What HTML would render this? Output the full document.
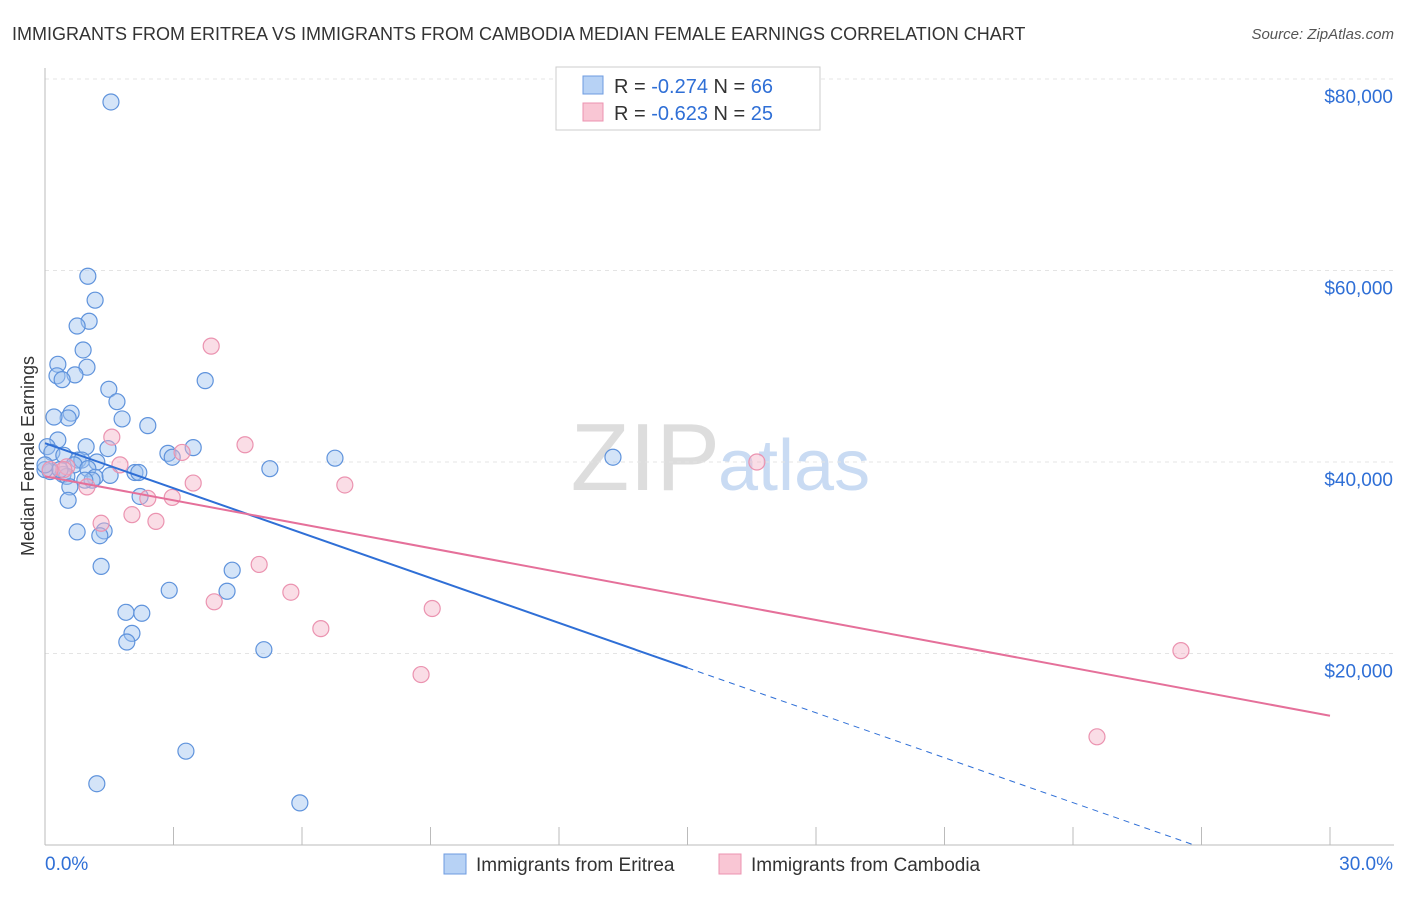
<!DOCTYPE html>
<html><head><meta charset="utf-8"><style>
body{margin:0;background:#fff;font-family:"Liberation Sans",sans-serif}
svg text{font-family:"Liberation Sans",sans-serif}
</style></head><body>
<svg id="c" width="1406" height="892">
<text x="12" y="40" font-size="18" fill="#333">IMMIGRANTS FROM ERITREA VS IMMIGRANTS FROM CAMBODIA MEDIAN FEMALE EARNINGS CORRELATION CHART</text>
<text x="1394" y="39" font-size="15" fill="#555" font-style="italic" text-anchor="end">Source: ZipAtlas.com</text>
<text x="720" y="490" font-size="96" fill="#ddd" text-anchor="end" font-family="Liberation Serif">ZIP</text>
<text x="718" y="490" font-size="72" fill="#c9dbf3">atlas</text>
<text transform="translate(34,456) rotate(-90)" font-size="18" fill="#333" text-anchor="middle">Median Female Earnings</text>
<g id="grid"></g><g id="pts"></g><g id="lines"></g>
<g>
<rect x="556" y="67" width="264" height="63" fill="#fff" stroke="#ccc"/>
<rect x="583" y="76" width="20" height="18" fill="#b7d2f5" stroke="#6d9be0"/>
<rect x="583" y="103" width="20" height="18" fill="#f9c6d4" stroke="#ec93b0"/>
<text x="614" y="93" font-size="20" fill="#333">R = <tspan fill="#2f6fd6">-0.274</tspan>   N = <tspan fill="#2f6fd6">66</tspan></text>
<text x="614" y="120" font-size="20" fill="#333">R = <tspan fill="#2f6fd6">-0.623</tspan>   N = <tspan fill="#2f6fd6">25</tspan></text>
</g>
<g>
<rect x="444" y="854" width="22" height="20" fill="#b7d2f5" stroke="#6d9be0"/>
<text x="476" y="871" font-size="19" fill="#333">Immigrants from Eritrea</text>
<rect x="719" y="854" width="22" height="20" fill="#f9c6d4" stroke="#ec93b0"/>
<text x="751" y="871" font-size="19" fill="#333">Immigrants from Cambodia</text>
</g>
</svg>
<script>
const yTicks=[20000,40000,60000,80000];
const yTickLabels=["$20,000","$40,000","$60,000","$80,000"];
const xTickLabels=["0.0%","30.0%"];
const eritreaX=[1.54,1.00,1.17,1.03,0.75,0.89,0.30,0.98,0.28,0.70,0.40,3.74,1.49,1.68,0.61,0.54,0.21,1.80,2.40,0.30,0.96,1.47,3.46,2.87,2.97,0.05,0.16,0.44,0.77,0.86,1.21,0.68,1.00,6.77,13.26,5.25,2.10,2.19,0.12,0.42,0.51,1.17,1.10,0.58,0.54,2.22,0.75,1.38,1.28,1.31,4.37,2.90,4.25,1.89,2.26,2.03,1.91,5.11,3.29,1.21,5.95,0.0,0.0,0.35,0.93,1.52];
const eritreaY=[77.6,59.4,56.9,54.7,54.2,51.7,50.2,49.9,49.0,49.1,48.6,48.5,47.6,46.3,45.1,44.6,44.7,44.5,43.8,42.3,41.6,41.4,41.5,40.9,40.5,41.6,41.0,40.7,40.2,40.2,40.0,39.7,39.3,40.4,40.5,39.3,38.9,38.9,39.0,38.7,38.5,38.4,38.1,37.4,36.0,36.4,32.7,32.8,32.3,29.1,28.7,26.6,26.5,24.3,24.2,22.1,21.2,20.4,9.8,6.4,4.4,39.2,39.7,39.2,38.1,38.6];
const cambodiaX=[3.88,1.56,4.67,3.20,1.75,16.62,0.51,0.44,3.46,7.00,0.98,2.97,2.40,2.03,2.59,1.31,5.00,5.74,3.95,9.04,6.44,8.78,26.52,24.56,0.12];
const cambodiaY=[52.1,42.6,41.8,41.0,39.7,40.0,39.5,39.2,37.8,37.6,37.4,36.3,36.2,34.5,33.8,33.6,29.3,26.4,25.4,24.7,22.6,17.8,20.3,11.3,39.2];
const eritreaTrend=[41.96,18.5]; // values at 0% and 15%
const cambodiaTrend=[38.5,13.5]; // values at 0% and 30%
const X=p=>45+p*42.833, Y=v=>845-v*9.575;
const NS="http://www.w3.org/2000/svg";
function mk(t,a,parent){const e=document.createElementNS(NS,t);for(const k in a)e.setAttribute(k,a[k]);parent.appendChild(e);return e;}
const g=document.getElementById('grid');
yTicks.forEach((v,i)=>{
 const l=mk('line',{x1:45,x2:1394,y1:Y(v/1000),y2:Y(v/1000),stroke:'#e4e4e4','stroke-dasharray':'4,4'},g);
 
 
 const t=mk('text',{x:1393,y:Y(v/1000)+24,'font-size':19,fill:'#2f6fd6','text-anchor':'end'},g);t.textContent=yTickLabels[i];
 
 
});
const topL=mk('line',{x1:45,x2:1394,y1:79,y2:79,stroke:'#e4e4e4','stroke-dasharray':'4,4'},g);
mk('line',{x1:45,x2:45,y1:68,y2:845,stroke:'#bbb'},g);
const ax=mk('line',{x1:45,x2:1394,y1:845,y2:845,stroke:'#bbb'},g);


for(let i=0;i<=10;i++){mk('line',{x1:X(i*3),x2:X(i*3),y1:827,y2:845,stroke:'#bbb'},g);}
xTickLabels.forEach((s,i)=>{const t=mk('text',{x:i?1393:45,y:870,'font-size':19,fill:'#2f6fd6','text-anchor':i?'end':'start'},g);t.textContent=s;
 
 });
const P=document.getElementById('pts');
eritreaX.forEach((x,i)=>{const c=mk('circle',{cx:X(x),cy:Y(eritreaY[i]),r:8,fill:'rgba(160,195,240,0.45)',stroke:'#5f93dc','stroke-width':1.2},P);
 
 });
cambodiaX.forEach((x,i)=>{const c=mk('circle',{cx:X(x),cy:Y(cambodiaY[i]),r:8,fill:'rgba(245,180,200,0.45)',stroke:'#eb93b0','stroke-width':1.2},P);
 
 });
const L=document.getElementById('lines');
const sb=(eritreaTrend[1]-eritreaTrend[0])/15;
const l1=mk('line',{x1:X(0),y1:Y(eritreaTrend[0]),x2:X(15),y2:Y(eritreaTrend[1]),stroke:'#2f6fd6','stroke-width':2},L);


const xe=-eritreaTrend[0]/sb;
const l2=mk('line',{x1:X(15),y1:Y(eritreaTrend[1]),x2:X(xe),y2:Y(0),stroke:'#2f6fd6','stroke-width':1,'stroke-dasharray':'6,5'},L);


const l3=mk('line',{x1:X(0),y1:Y(cambodiaTrend[0]),x2:X(30),y2:Y(cambodiaTrend[1]),stroke:'#e5709a','stroke-width':2},L);


</script>
</body></html>
